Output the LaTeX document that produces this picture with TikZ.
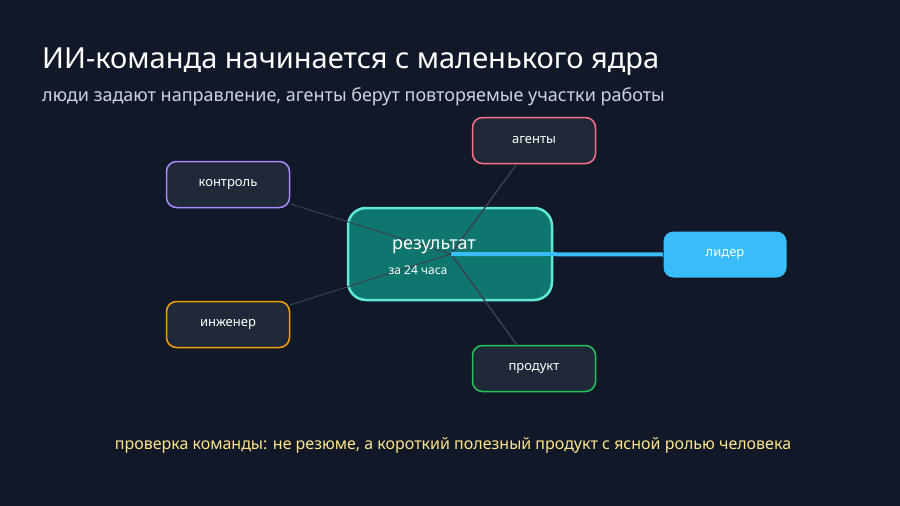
\documentclass[tikz,border=0pt]{standalone}
\usepackage{fontspec}
\setmainfont{Noto Sans}
\definecolor{bg}{HTML}{111827}
\definecolor{nf}{HTML}{1F2937}
\definecolor{ln}{HTML}{374151}
\definecolor{teal}{HTML}{0F766E}
\definecolor{tb}{HTML}{5EEAD4}
\definecolor{blu}{HTML}{38BDF8}
\definecolor{sub}{HTML}{CBD5E1}
\definecolor{yel}{HTML}{FDE68A}
\definecolor{cpur}{HTML}{A78BFA}
\definecolor{cred}{HTML}{FB7185}
\definecolor{cor}{HTML}{F59E0B}
\definecolor{cgr}{HTML}{22C55E}
\begin{document}
\begin{tikzpicture}[x=1pt,y=-1pt,
  box/.style={draw,line width=1.5pt,fill=nf,rounded corners=10pt,minimum width=123pt,minimum height=46pt,text=white,font=\fontsize{13}{15}\selectfont},
  link/.style={draw=ln,line width=1.5pt}]
\fill[bg] (0,0) rectangle (900,506);
\useasboundingbox (0,0) rectangle (900,506);
\node[anchor=base west,text=white,font=\bfseries\fontsize{29}{34}\selectfont,inner sep=0] (title) at (42,68) {ИИ-команда начинается с маленького ядра};
\node[anchor=base west,text=sub,font=\fontsize{18}{22}\selectfont,inner sep=0] (subt) at (42,101) {люди задают направление, агенты берут повторяемые участки работы};
\node[draw=tb,line width=2.5pt,fill=teal,rounded corners=18pt,minimum width=204pt,minimum height=92pt] (c) at (450,254) {};
\coordinate (h) at (451,254);
\node[box,draw=cpur] (k) at (228,184.5) {контроль};
\node[box,draw=cred] (a) at (534,140.5) {агенты};
\node[box,draw=cor] (i) at (228,324.5) {инженер};
\node[box,draw=cgr] (p) at (534,368.5) {продукт};
\node[box,draw=none,fill=blu] (l) at (725,254.5) {лидер};
\draw[link,line width=1pt] (h) -- (k);
\draw[link,line width=1pt] (h) -- (i);
\draw[link] (h) -- (a);
\draw[link] (h) -- (p);
\draw[draw=blu,line width=4pt] (h) -- (l.west);
\node[text=white,font=\fontsize{18}{22}\selectfont,anchor=base] (r) at (434,249) {результат};
\node[text=white,font=\fontsize{12}{14}\selectfont,anchor=base] (z) at (418,274) {за 24 часа};
\node[text=yel,font=\fontsize{16}{20}\selectfont,anchor=base] (b) at (453,449) {проверка команды: не резюме, а короткий полезный продукт с ясной ролью человека};
\end{tikzpicture}
\end{document}
